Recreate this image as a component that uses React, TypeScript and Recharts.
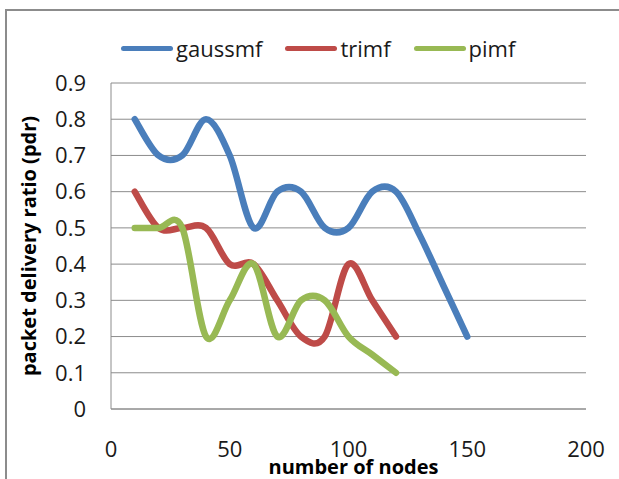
import React from "react";
import { CartesianGrid, Legend, Line, LineChart, XAxis, YAxis } from "recharts";

const FONT = "'Open Sans', 'Liberation Sans', sans-serif";

// x = number of nodes, y = packet delivery ratio
const gaussNodes = [10, 20, 30, 40, 50, 60, 70, 80, 90, 100, 110, 120, 130, 140, 150];
const gaussPdr = [0.8, 0.7, 0.7, 0.8, 0.7, 0.5, 0.6, 0.6, 0.5, 0.5, 0.6, 0.6, 0.48, 0.34, 0.2];

const trimNodes = [10, 20, 30, 40, 50, 60, 70, 80, 90, 100, 110, 120];
const trimPdr = [0.6, 0.5, 0.5, 0.5, 0.4, 0.4, 0.3, 0.2, 0.2, 0.4, 0.3, 0.2];

const piNodes = [10, 20, 30, 40, 50, 60, 70, 80, 90, 100, 110, 120];
const piPdr = [0.5, 0.5, 0.5, 0.2, 0.3, 0.4, 0.2, 0.3, 0.3, 0.2, 0.15, 0.1];

const seriesNames = ["gaussmf", "trimf", "pimf"];
const xTicks = [0, 50, 100, 150, 200];
const yTicks = [0, 0.1, 0.2, 0.3, 0.4, 0.5, 0.6, 0.7, 0.8, 0.9];

const toRows = (xs: number[], ys: number[]) => xs.map((x, i) => ({ x, y: ys[i] }));

const gaussData = toRows(gaussNodes, gaussPdr);
const trimData = toRows(trimNodes, trimPdr);
const piData = toRows(piNodes, piPdr);

// excel-like smoothed line (catmull-rom through the points)
const smoothCurve = (context: any) => {
  let pts: number[][] = [];
  return {
    areaStart() {},
    areaEnd() {},
    lineStart() {
      pts = [];
    },
    point(x: number, y: number) {
      pts.push([+x, +y]);
    },
    lineEnd() {
      if (!pts.length) return;
      context.moveTo(pts[0][0], pts[0][1]);
      for (let i = 0; i < pts.length - 1; i++) {
        const p0 = pts[Math.max(i - 1, 0)];
        const p1 = pts[i];
        const p2 = pts[i + 1];
        const p3 = pts[Math.min(i + 2, pts.length - 1)];
        context.bezierCurveTo(
          p1[0] + (p2[0] - p0[0]) / 6,
          p1[1] + (p2[1] - p0[1]) / 6,
          p2[0] - (p3[0] - p1[0]) / 6,
          p2[1] - (p3[1] - p1[1]) / 6,
          p2[0],
          p2[1]
        );
      }
    },
  };
};

const renderLegend = ({ payload }: any) => {
  const items = [...(payload || [])].sort(
    (a: any, b: any) => seriesNames.indexOf(a.value) - seriesNames.indexOf(b.value)
  );
  return (
    <div style={{ display: "flex", alignItems: "center", gap: 23, fontFamily: FONT, fontSize: 22, color: "#1a1a1a" }}>
      {items.map((p: any) => (
        <div key={p.value} style={{ display: "flex", alignItems: "center", gap: 3 }}>
          <span style={{ display: "inline-block", width: 52, height: 5, borderRadius: 3, background: p.color }} />
          <span>{p.value}</span>
        </div>
      ))}
    </div>
  );
};

const YTitle = ({ viewBox }: any) => {
  const cx = viewBox.x + 28;
  const cy = viewBox.y + viewBox.height / 2;
  return (
    <text
      x={cx}
      y={cy}
      transform={`rotate(-90 ${cx} ${cy})`}
      textAnchor="middle"
      dominantBaseline="central"
      fontFamily={FONT}
      fontWeight={700}
      fontSize={20}
      fill="#000"
    >
      packet delivery ratio (pdr)
    </text>
  );
};

const XTitle = ({ viewBox }: any) => (
  <text
    x={viewBox.x + viewBox.width / 2 + 5}
    y={viewBox.y + 65}
    textAnchor="middle"
    fontFamily={FONT}
    fontWeight={700}
    fontSize={20}
    fill="#000"
  >
    number of nodes
  </text>
);

export default function App() {
  const tick = { fill: "#1a1a1a", fontSize: 22, fontFamily: FONT };
  return (
    <div style={{ position: "absolute", left: 0, top: 0, width: 619, height: 479, overflow: "hidden", background: "#fff" }}>
      <div
        style={{
          position: "absolute",
          left: 5,
          top: 9,
          width: 700,
          height: 600,
          borderLeft: "2px solid #8c8c8c",
          borderTop: "2px solid #8c8c8c",
        }}
      />
      <LineChart width={619} height={479} margin={{ top: 83, right: 33, bottom: 0, left: 0 }}>
        <CartesianGrid vertical={false} stroke="#8c8c8c" strokeWidth={1} />
        <XAxis
          type="number"
          dataKey="x"
          domain={[0, 200]}
          ticks={xTicks}
          height={70}
          tickLine={false}
          tickSize={0}
          tickMargin={32}
          axisLine={{ stroke: "#8c8c8c" }}
          tick={tick}
          label={<XTitle />}
        />
        <YAxis
          type="number"
          domain={[0, 0.9]}
          ticks={yTicks}
          width={111}
          tickLine={false}
          tickSize={0}
          tickMargin={25}
          axisLine={{ stroke: "#8c8c8c" }}
          tick={tick}
          tickFormatter={(v: number) => (v === 0 ? "0" : v.toFixed(1))}
          label={<YTitle />}
        />
        <Legend
          layout="horizontal"
          verticalAlign="middle"
          align="center"
          content={renderLegend}
          wrapperStyle={{ top: 33, left: 121, width: "auto", right: "auto" }}
        />
        <Line data={gaussData} dataKey="y" name="gaussmf" type={smoothCurve as any} stroke="#4a7ebb" strokeWidth={6.5} strokeLinecap="round" dot={false} activeDot={false} isAnimationActive={false} />
        <Line data={trimData} dataKey="y" name="trimf" type={smoothCurve as any} stroke="#be4b48" strokeWidth={6.5} strokeLinecap="round" dot={false} activeDot={false} isAnimationActive={false} />
        <Line data={piData} dataKey="y" name="pimf" type={smoothCurve as any} stroke="#98b954" strokeWidth={6.5} strokeLinecap="round" dot={false} activeDot={false} isAnimationActive={false} />
      </LineChart>
    </div>
  );
}
